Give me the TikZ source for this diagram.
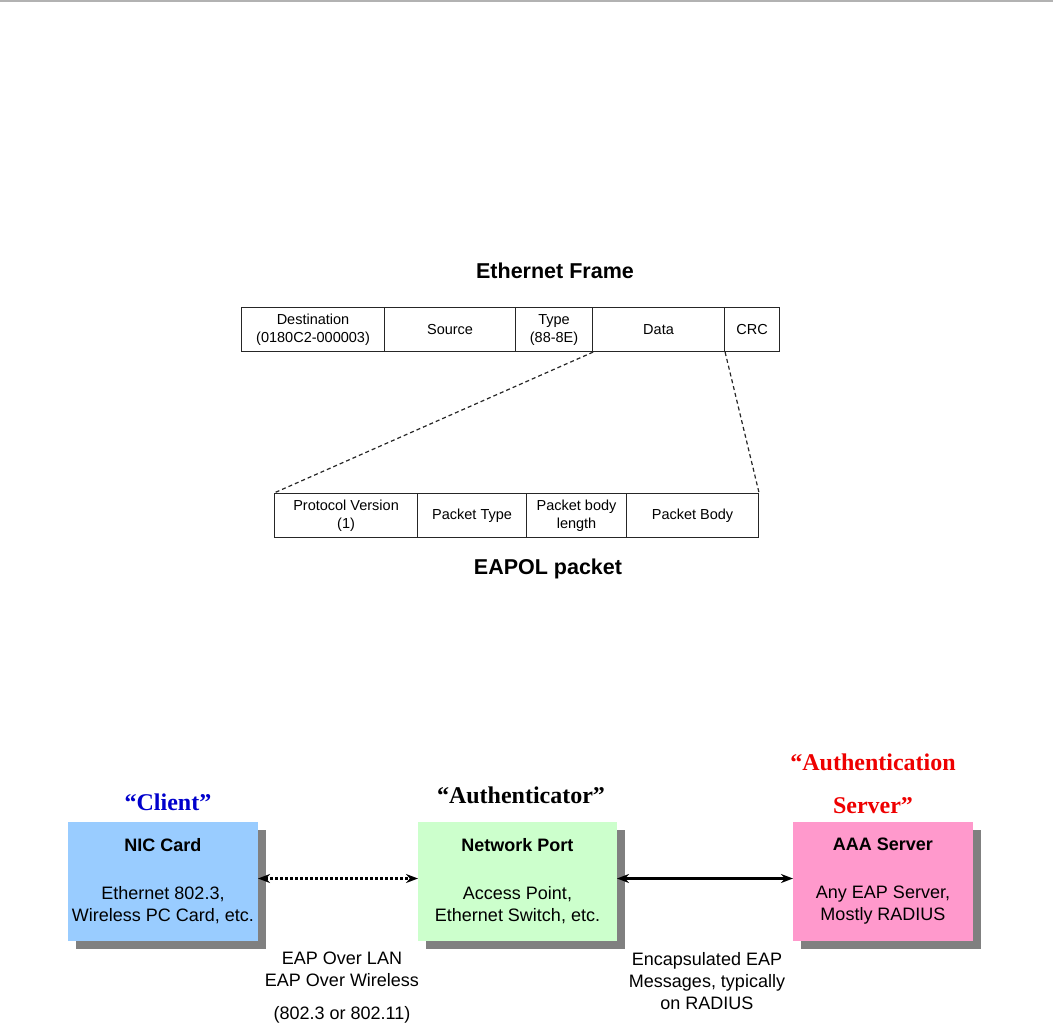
\documentclass[tikz,border=0pt]{standalone}
\usepackage{fontspec}
\setmainfont{Liberation Sans}
\newfontfamily\quotefont{Liberation Serif}
\usetikzlibrary{arrows.meta,shadows}
\definecolor{nicblue}{HTML}{99CCFF}
\definecolor{portgreen}{HTML}{CCFFCC}
\definecolor{aaapink}{HTML}{FF99CC}
\definecolor{clientblue}{HTML}{0000CC}
\definecolor{serverred}{HTML}{EE0000}
\begin{document}
\begin{tikzpicture}[x=1pt,y=-1pt,
  cell/.style={draw=black!85,line width=1.1pt,anchor=north west,minimum height=44,
    inner sep=0pt,align=center,font=\fontsize{14.5}{18}\selectfont},
  caption/.style={font=\bfseries\fontsize{21.5}{25}\selectfont},
  role/.style={font=\quotefont\bfseries\fontsize{24}{43}\selectfont,align=center},
  device/.style={minimum height=119,inner sep=0pt,outer sep=0pt,align=center,
    font=\fontsize{18}{22}\selectfont,
    drop shadow={shadow xshift=8pt,shadow yshift=-8pt,opacity=1,fill=black!50}},
  note/.style={font=\fontsize{18}{22}\selectfont,align=center},
  link/.style={line width=2.4pt,{Stealth[length=12pt,width=9pt]}-{Stealth[length=12pt,width=9pt]}},
  zoomline/.style={draw=black!85,line width=1.2pt,dash pattern=on 4pt off 3pt}]
\useasboundingbox (0,0) rectangle (1053,1031);
\draw[black!30,line width=1.5pt] (0,0.75) -- (1053,0.75);
\node[caption] (ethtitle) at (555,271) {Ethernet Frame};
\node[cell,minimum width=143] (dest) at (241,307) {Destination\\(0180C2-000003)};
\node[cell,minimum width=131] (src) at (384,307) {Source};
\node[cell,minimum width=77] (type) at (515,307) {Type\\(88-8E)};
\node[cell,minimum width=132] (data) at (592,307) {Data};
\node[cell,minimum width=55] (crc) at (724,307) {CRC};
\node[cell,minimum width=143] (protver) at (274,493) {Protocol Version\\(1)};
\node[cell,minimum width=109] (pkttype) at (417,493) {Packet Type};
\node[cell,minimum width=100] (bodylen) at (526,493) {Packet body\\length};
\node[cell,minimum width=132] (body) at (626,493) {Packet Body};
\node[caption] (eapoltitle) at (548,569) {EAPOL packet};
\draw[zoomline] (type.south east) -- (protver.north west);
\draw[zoomline] (data.south east) -- (body.north east);
\node[role,text=clientblue] (client) at (168,802) {“Client”};
\node[role] (authenticator) at (521,795) {“Authenticator”};
\node[role,text=serverred] (authserver) at (873,784) {“Authentication\\Server”};
\node[device,fill=nicblue,minimum width=190] (nic) at (163,881.5)
  {\textbf{NIC Card}\\[26pt]Ethernet 802.3,\\Wireless PC Card, etc.};
\node[device,fill=portgreen,minimum width=199] (port) at (517.5,881.5)
  {\textbf{Network Port}\\[26pt]Access Point,\\Ethernet Switch, etc.};
\node[device,fill=aaapink,minimum width=180] (aaa) at (883,881.5)
  {\textbf{AAA Server}\\[26pt]Any EAP Server,\\Mostly RADIUS};
\draw[link,dash pattern=on 2.4pt off 2.6pt] ([yshift=3pt]nic.east) -- ([yshift=3pt]port.west);
\draw[link] ([yshift=3pt]port.east) -- ([yshift=3pt]aaa.west);
\node[note] (eapol) at (342,969) {EAP Over LAN\\EAP Over Wireless};
\node[note] (ieee) at (342,1015) {(802.3 or 802.11)};
\node[note] (radius) at (707,981) {Encapsulated EAP\\Messages, typically\\on RADIUS};
\end{tikzpicture}
\end{document}
